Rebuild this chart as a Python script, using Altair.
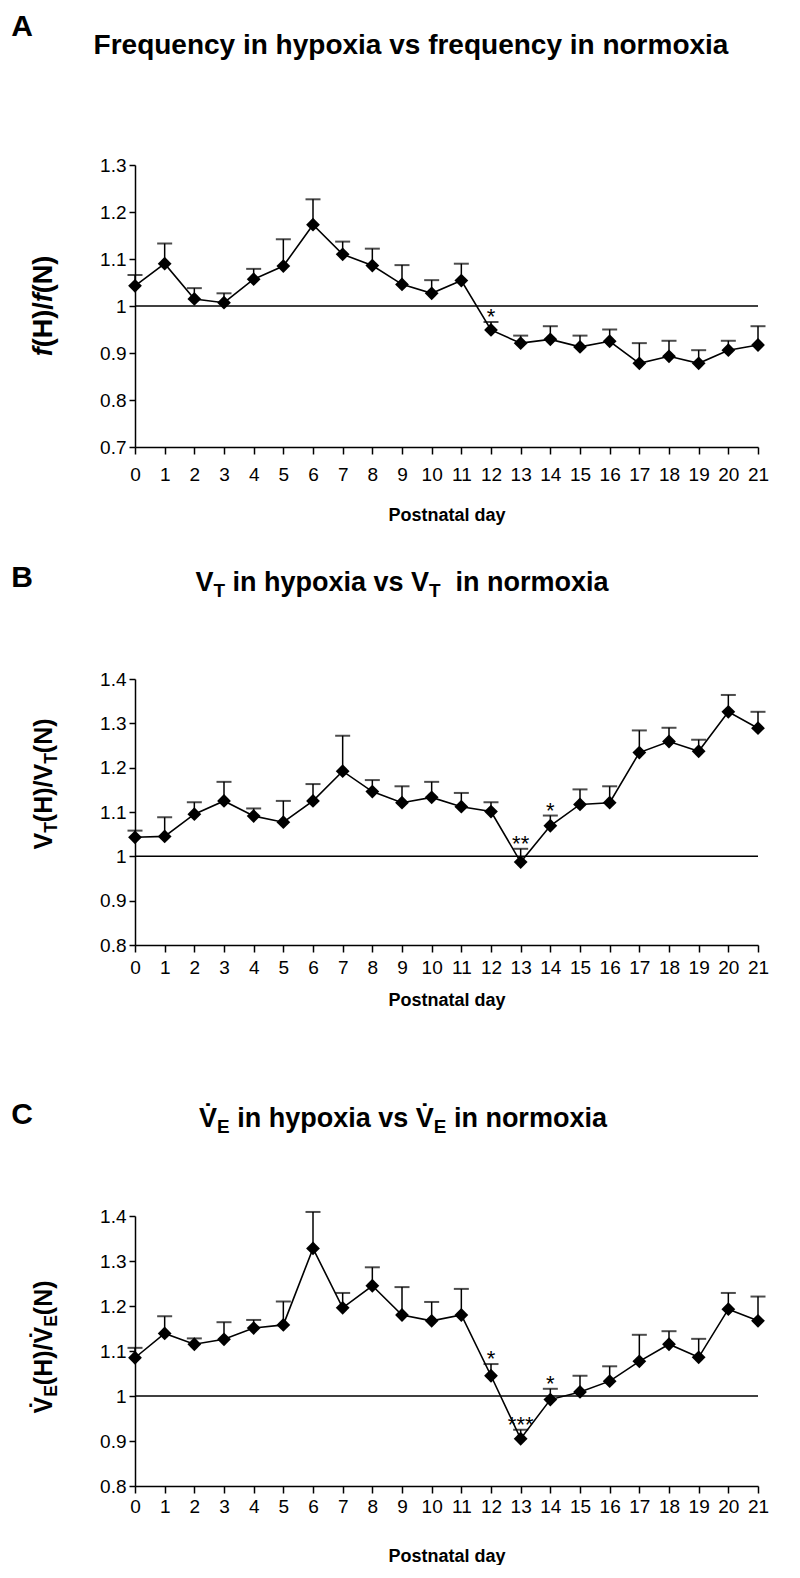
import altair as alt
import pandas as pd

DAYS = list(range(22))

F_RATIO = [1.043, 1.090, 1.015, 1.007, 1.057, 1.085, 1.173, 1.110, 1.086, 1.046, 1.027,
           1.054, 0.949, 0.921, 0.929, 0.913, 0.925, 0.878, 0.893, 0.878, 0.906, 0.917]
F_ERR = [1.066, 1.133, 1.038, 1.027, 1.079, 1.142, 1.227, 1.137, 1.122, 1.087, 1.055,
         1.090, 0.966, 0.937, 0.957, 0.937, 0.950, 0.921, 0.926, 0.906, 0.926, 0.957]
F_SIG = [""] * 12 + ["*"] + [""] * 9

VT_RATIO = [1.043, 1.045, 1.095, 1.125, 1.091, 1.077, 1.125, 1.192, 1.146, 1.121, 1.133,
            1.112, 1.101, 0.987, 1.069, 1.117, 1.121, 1.234, 1.259, 1.237, 1.326, 1.289]
VT_ERR = [1.058, 1.088, 1.122, 1.168, 1.108, 1.125, 1.163, 1.272, 1.172, 1.158, 1.168,
          1.143, 1.122, 1.017, 1.092, 1.151, 1.158, 1.284, 1.290, 1.263, 1.364, 1.326]
VT_SIG = [""] * 13 + ["**", "*"] + [""] * 7

VE_RATIO = [1.085, 1.139, 1.115, 1.126, 1.151, 1.158, 1.328, 1.196, 1.245, 1.180, 1.167,
            1.180, 1.045, 0.905, 0.992, 1.009, 1.033, 1.077, 1.115, 1.086, 1.193, 1.167]
VE_ERR = [1.107, 1.177, 1.128, 1.164, 1.169, 1.210, 1.409, 1.229, 1.286, 1.242, 1.209,
          1.238, 1.071, 0.925, 1.016, 1.045, 1.066, 1.136, 1.144, 1.127, 1.229, 1.221]
VE_SIG = [""] * 12 + ["*", "***", "*"] + [""] * 7

A_TICKS = [0.7, 0.8, 0.9, 1.0, 1.1, 1.2, 1.3]
BC_TICKS = [0.8, 0.9, 1.0, 1.1, 1.2, 1.3, 1.4]

TITLE_FONT = "Liberation Sans"
LABEL_FONT = "Liberation Sans"
W = 623

# Liberation Sans Bold (Arial-metric) advance widths per 1000 em, to lay out mixed-style titles
AB = {' ': 278, '(': 333, ')': 333, '/': 278, 'A': 722, 'B': 722, 'C': 722, 'E': 667,
      'F': 611, 'H': 722, 'N': 722, 'T': 611, 'V': 667, 'a': 556, 'c': 556, 'd': 611,
      'e': 556, 'f': 333, 'h': 611, 'i': 278, 'l': 278, 'm': 889, 'n': 611, 'o': 611,
      'p': 611, 'q': 611, 'r': 389, 's': 556, 't': 333, 'u': 611, 'v': 556, 'x': 556,
      'y': 556, '\u0307': 0}


def tw(s, size):
    return sum(AB.get(c, 556) for c in s) / 1000.0 * size


def text_layer(text, x, y, size, font=TITLE_FONT, style="normal", angle=0,
               align="left", baseline="alphabetic"):
    return alt.Chart(pd.DataFrame({"t": [text]})).mark_text(
        font=font, fontSize=size, fontWeight="bold", fontStyle=style, angle=angle,
        align=align, baseline=baseline, color="black"
    ).encode(x=alt.value(x), y=alt.value(y), text="t:N")


def hsegs(parts, cx, by, size):
    total = sum(tw(t, size * rs) for t, rs, st, sh in parts)
    x = cx - total / 2
    out = []
    for t, rs, st, sh in parts:
        s = size * rs
        lead = len(t) - len(t.lstrip(" "))
        out.append(text_layer(t.strip(" "), x + tw(" " * lead, s), by + sh, s, style=st))
        x += tw(t, s)
    return out


def vsegs(parts, bx, cy, size):
    total = sum(tw(t, size * rs) for t, rs, st, sh in parts)
    y = cy + total / 2
    out = []
    for t, rs, st, sh in parts:
        s = size * rs
        out.append(text_layer(t, bx + sh, y, s, style=st, angle=270))
        y -= tw(t, s)
    return out


def panel(vals, errs, sig, ydom, yticks, H, yrange, xlabpad, xtitlepad, extra):
    df = pd.DataFrame({"day": DAYS, "val": vals, "err": errs, "sig": sig})
    sc = dict(domain=ydom, nice=False, zero=False)
    if yrange:
        sc["range"] = yrange
    yscale = alt.Scale(**sc)
    yaxis = alt.Axis(values=yticks, title=None, labelOverlap=False, labelFlush=False,
                     labelExpr="datum.value == 1 ? '1' : format(datum.value, '.1f')",
                     tickSize=6, labelPadding=3)
    xenc = alt.X("day:Q", scale=alt.Scale(domain=[0, 21], nice=False, zero=False),
                 axis=alt.Axis(values=DAYS, format="d", title="Postnatal day",
                               labelOverlap=False, labelFlush=False, tickSize=7,
                               labelPadding=xlabpad, titlePadding=xtitlepad))
    base = alt.Chart(df)
    ref = alt.Chart(pd.DataFrame({"one": [1.0]})).mark_rule(
        color="black", strokeWidth=1.5).encode(y=alt.Y("one:Q", scale=yscale, axis=yaxis))
    bars = base.mark_rule(color="black", strokeWidth=1.5).encode(
        x=xenc, y=alt.Y("val:Q", scale=yscale, axis=yaxis), y2="err:Q")
    caps = base.mark_tick(orient="horizontal", size=15, thickness=2, color="black").encode(
        x=xenc, y=alt.Y("err:Q", scale=yscale, axis=yaxis))
    line = base.mark_line(color="black", strokeWidth=1.6).encode(
        x=xenc, y=alt.Y("val:Q", scale=yscale, axis=yaxis))
    pts = base.mark_point(shape="diamond", filled=True, size=190, color="black",
                          opacity=1).encode(x=xenc, y=alt.Y("val:Q", scale=yscale, axis=yaxis))
    stars = base.transform_filter("datum.sig != ''").mark_text(
        font=LABEL_FONT, fontSize=22, baseline="alphabetic", dy=2, color="black"
    ).encode(x=xenc, y=alt.Y("err:Q", scale=yscale, axis=yaxis), text="sig:N")
    return alt.layer(ref, bars, caps, line, pts, stars, *extra).properties(width=W, height=H)


# Panel A
HA = 282
extraA = [text_layer("A", -113, -129, 30, font=LABEL_FONT, align="center"),
          text_layer("Frequency in hypoxia vs  frequency in normoxia", 276, -111, 28,
                     align="center")]
extraA += vsegs([("f", 1, "italic", 0), ("(H)/", 1, "normal", 0),
                 ("f", 1, "italic", 0), ("(N)", 1, "normal", 0)], -83, 141, 27)
pA = panel(F_RATIO, F_ERR, F_SIG, [0.7, 1.3], A_TICKS, HA, None, 11, 22, extraA)

# Panel B
HB = 266
extraB = [text_layer("B", -113, -92, 30, font=LABEL_FONT, align="center")]
extraB += hsegs([("V", 1, "normal", 0), ("T", 0.7, "normal", 6),
                 (" in hypoxia vs V", 1, "normal", 0), ("T", 0.7, "normal", 6),
                 ("  in normoxia", 1, "normal", 0)], 267, -88, 27)
extraB += vsegs([("V", 1, "normal", 0), ("T", 0.7, "normal", 5), ("(H)/V", 1, "normal", 0),
                 ("T", 0.7, "normal", 5), ("(N)", 1, "normal", 0)], -83, 105, 25)
pB = panel(VT_RATIO, VT_ERR, VT_SIG, [0.8, 1.4], BC_TICKS, HB, None, 6, 14, extraB)

# Panel C (plot area taller; axis occupies lower part via scale range)
HC = 309
extraC = [text_layer("C", -113, -53, 30, font=LABEL_FONT, align="center")]
extraC += hsegs([("V\u0307", 1, "normal", 0), ("E", 0.7, "normal", 6),
                 (" in hypoxia vs V\u0307", 1, "normal", 0), ("E", 0.7, "normal", 6),
                 (" in normoxia", 1, "normal", 0)], 268, -50, 27)
extraC += vsegs([("V\u0307", 1, "normal", 0), ("E", 0.7, "normal", 5),
                 ("(H)/V\u0307", 1, "normal", 0), ("E", 0.7, "normal", 5),
                 ("(N)", 1, "normal", 0)], -83, 170, 25)
pC = panel(VE_RATIO, VE_ERR, VE_SIG, [0.8, 1.4], BC_TICKS, HC, [HC, 39], 4, 31, extraC)

chart = alt.vconcat(pA, pB, pC, spacing=232, bounds="flush").properties(
    padding={"left": 3, "top": 4, "right": 0, "bottom": 0}
).configure_view(stroke=None).configure_axis(
    domainColor="black", tickColor="black", labelColor="black", titleColor="black",
    domainWidth=1.5, tickWidth=1.5, grid=False, labelFont=LABEL_FONT, labelFontSize=19,
    titleFont=TITLE_FONT, titleFontSize=18, titleFontWeight="bold"
)

chart.save("out.html", embed_options={"renderer": "svg", "actions": False})
